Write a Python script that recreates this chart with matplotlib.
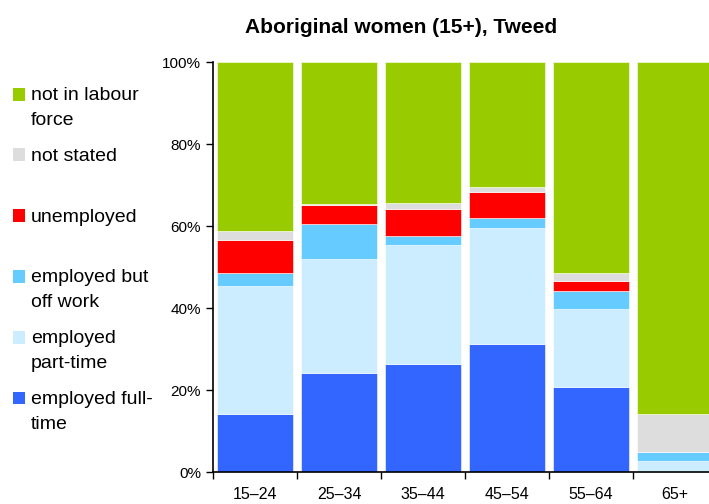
import numpy as np
import matplotlib
matplotlib.use('Agg')
import matplotlib.pyplot as plt
from matplotlib.patches import Rectangle
from matplotlib.ticker import PercentFormatter

plt.rcParams['font.family'] = ['Liberation Sans', 'DejaVu Sans']

# age groups
groups = ['15–24', '25–34', '35–44', '45–54', '55–64', '65+']

# shares in % (bottom to top)
full_time = [14.3, 24.1, 26.3, 31.3, 20.9, 0.0]
part_time = [31.1, 27.9, 29.1, 28.2, 18.9, 2.7]
off_work = [3.2, 8.6, 2.2, 2.6, 4.3, 2.3]
unemployed = [8.1, 4.5, 6.7, 6.2, 2.5, 0.0]
not_stated = [2.2, 0.3, 1.5, 1.4, 1.9, 9.2]
not_in_lf = [41.1, 34.6, 34.2, 30.3, 51.5, 85.8]

series = [full_time, part_time, off_work, unemployed, not_stated, not_in_lf]
colors = ['#3366FF', '#CCECFF', '#66CCFF', '#FF0000', '#DDDDDD', '#99CC00']
labels = ['employed full-\ntime', 'employed\npart-time', 'employed but\noff work',
          'unemployed', 'not stated', 'not in labour\nforce']

W, H = 709, 504
fig = plt.figure(figsize=(W/100, H/100), dpi=100)
ax = fig.add_axes([213/W, 31.7/H, 504/W, 410/H])

x = np.arange(len(groups))
bottom = np.zeros(len(groups))
for vals, c in zip(series, colors):
    vals = np.array(vals)
    ax.bar(x, vals, 0.905, bottom=bottom, color=c, edgecolor='white', linewidth=0.4)
    bottom += vals

ax.set_xlim(-0.5, len(groups) - 0.5)
ax.set_ylim(0, 100)
ax.set_yticks(np.arange(0, 101, 20))
ax.yaxis.set_major_formatter(PercentFormatter(decimals=0))
ax.set_xticks(np.arange(-0.5, len(groups) - 0.4, 1))
ax.set_xticklabels([])
ax.set_xticks(x, minor=True)
ax.set_xticklabels(groups, minor=True)
ax.tick_params(axis='x', which='minor', length=0, labelsize=11.5, pad=10.5)
ax.tick_params(axis='x', which='major', length=5, width=1)
ax.tick_params(axis='y', labelsize=11, length=5, width=1)
for s in ['top', 'right']:
    ax.spines[s].set_visible(False)
for s in ['left', 'bottom']:
    ax.spines[s].set_linewidth(1.2)

fig.text(401/W, 1 - 33/H, 'Aboriginal women (15+), Tweed',
         fontsize=15, fontweight='bold', ha='center', va='baseline')

# legend, top entry first
ys = [94.5, 154.5, 215.5, 276.3, 337.3, 398]
for yy, c, lab in zip(ys, colors[::-1], labels[::-1]):
    fig.patches.append(Rectangle((13/W, 1 - (yy + 6.2)/H), 12.4/W, 12.4/H,
                                 transform=fig.transFigure, facecolor=c, edgecolor='none'))
    fig.text(31/W, 1 - (yy - 7)/H, lab, fontsize=14, va='top', ha='left',
             linespacing=1.6)

fig.savefig('out.png', dpi=100)
